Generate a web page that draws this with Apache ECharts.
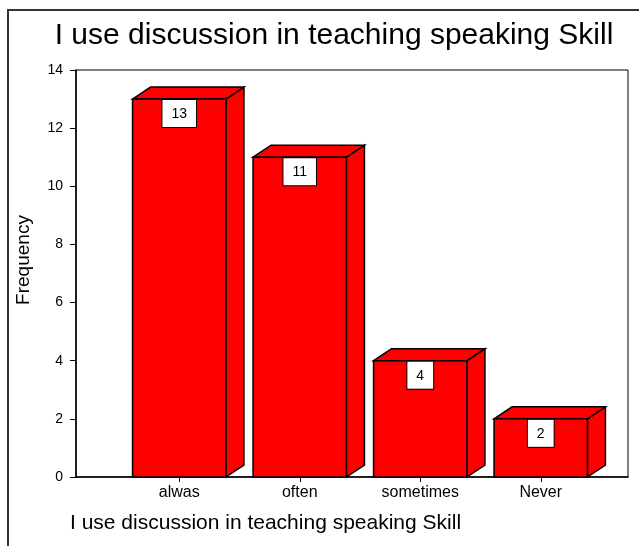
<!DOCTYPE html>
<html>
<head>
<meta charset="utf-8">
<script src="https://cdn.jsdelivr.net/npm/echarts@6/dist/echarts.min.js"></script>
<style>
  html, body { margin: 0; padding: 0; background: #fff; }
  #chart { width: 639px; height: 546px; }
</style>
</head>
<body>
<div id="chart"></div>
<script>
const chartTitle = 'I use discussion in teaching speaking Skill'
const categories = ['alwas', 'often', 'sometimes', 'Never']
const frequencies = [13, 11, 4, 2]
const yMax = 14
const yStep = 2

const chart = echarts.init(document.getElementById('chart'))

// 3D box: front face, top face, right side
function renderBox(params, api) {
  const top = api.coord([api.value(0), api.value(1)])
  const base = api.coord([api.value(0), 0])
  const w = api.size([1, 0])[0] * 0.775
  const dx = 18, dy = -12
  const l = top[0] - w / 2, r = top[0] + w / 2
  const t = top[1], b = base[1]
  const face = { fill: '#ff0000', stroke: '#000', lineWidth: 1.5 }
  return {
    type: 'group',
    children: [
      { type: 'polygon', shape: { points: [[r, b], [r + dx, b + dy], [r + dx, t + dy], [r, t]] }, style: face },
      { type: 'polygon', shape: { points: [[l, t], [l + dx, t + dy], [r + dx, t + dy], [r, t]] }, style: face },
      { type: 'rect', shape: { x: l, y: t, width: w, height: b - t }, style: face },
      {
        type: 'text',
        x: top[0], y: t + 1,
        style: {
          text: String(api.value(1)),
          align: 'center', verticalAlign: 'top',
          font: '14px "Liberation Sans", Arial, sans-serif',
          fill: '#000',
          backgroundColor: '#fff',
          borderColor: '#000', borderWidth: 1,
          padding: [7, 9, 6, 9]
        }
      }
    ]
  }
}

const option = {
  backgroundColor: '#fff',
  animation: false,
  textStyle: { fontFamily: '"Liberation Sans", Arial, sans-serif' },
  title: {
    text: chartTitle,
    left: 329, top: 16, textAlign: 'center',
    textStyle: { fontSize: 30, fontWeight: 'normal', color: '#000' }
  },
  graphic: [
    { type: 'rect', shape: { x: 8, y: 10, width: 660, height: 560 }, style: { fill: null, stroke: '#333', lineWidth: 2 } },
    {
      type: 'text', left: 70, top: 513,
      style: { text: chartTitle, font: '21px "Liberation Sans", Arial, sans-serif', fill: '#000' }
    },
    {
      type: 'text', x: 24, y: 260, rotation: Math.PI / 2,
      style: { text: 'Frequency', font: '19px "Liberation Sans", Arial, sans-serif', fill: '#000', align: 'center', verticalAlign: 'middle' }
    }
  ],
  grid: [
    { left: 76, right: 11, top: 70, bottom: 69, show: true, borderColor: '#000', borderWidth: 1 },
    { left: 119, right: 38, top: 70, bottom: 69 }
  ],
  xAxis: [
    {
      gridIndex: 0, type: 'value', min: 0, max: 1,
      axisLine: { show: true, lineStyle: { color: '#000', width: 1.5 } },
      axisTick: { show: false }, axisLabel: { show: false }, splitLine: { show: false }
    },
    {
      gridIndex: 1, type: 'category', data: categories,
      axisLine: { show: false },
      axisTick: { show: true, alignWithLabel: true, length: 5, lineStyle: { color: '#000' } },
      axisLabel: { color: '#000', fontSize: 16, margin: 8 }
    }
  ],
  yAxis: [
    {
      gridIndex: 0, type: 'value', min: 0, max: yMax, interval: yStep,
      axisLine: { show: true, lineStyle: { color: '#000', width: 1.5 } },
      axisTick: { show: true, length: 6, lineStyle: { color: '#000' } },
      axisLabel: { color: '#000', fontSize: 14, margin: 13 },
      splitLine: { show: false }
    },
    { gridIndex: 1, type: 'value', min: 0, max: yMax, show: false }
  ],
  series: [
    {
      type: 'custom',
      xAxisIndex: 1, yAxisIndex: 1,
      renderItem: renderBox,
      data: frequencies.map((v, i) => [i, v])
    }
  ]
}

chart.setOption(option)
</script>
</body>
</html>
